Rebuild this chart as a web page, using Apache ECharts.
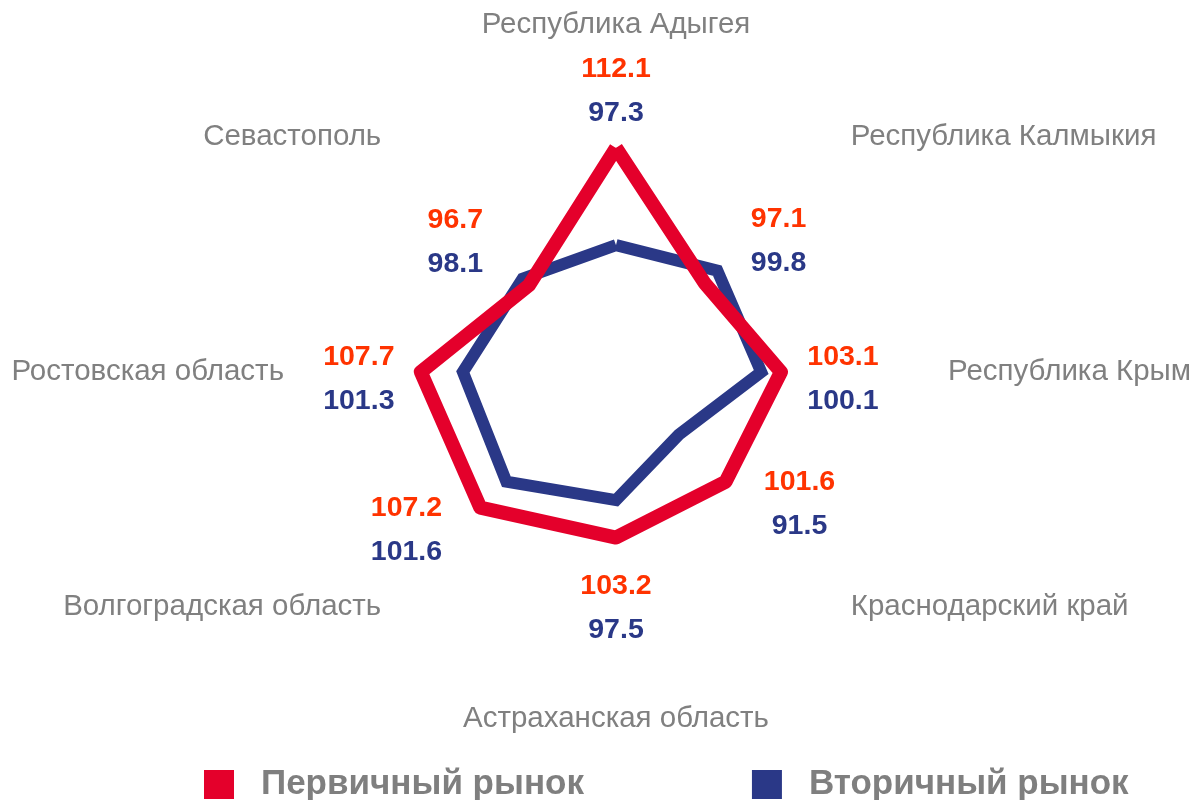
<!DOCTYPE html>
<html>
<head>
<meta charset="utf-8">
<script src="https://cdn.jsdelivr.net/npm/echarts@6/dist/echarts.min.js"></script>
<style>
  html, body { margin: 0; padding: 0; background: #fff; }
  #chart { width: 1191px; height: 800px; }
</style>
</head>
<body>
<div id="chart"></div>
<script>
// regions, starting at the top and going counter-clockwise (ECharts radar order)
const regions = [
  'Республика Адыгея',
  'Севастополь',
  'Ростовская область',
  'Волгоградская область',
  'Астраханская область',
  'Краснодарский край',
  'Республика Крым',
  'Республика Калмыкия'
]
const primary = [112.1, 96.7, 107.7, 107.2, 103.2, 101.6, 103.1, 97.1]
const secondary = [97.3, 98.1, 101.3, 101.6, 97.5, 91.5, 100.1, 99.8]
const seriesNames = ['Первичный рынок', 'Вторичный рынок']

const FONT = 'Arial, "Liberation Sans", sans-serif'
const RED = '#E4002B'
const BLUE = '#2A3887'
const CX = 616
const CY = 372

const chart = echarts.init(document.getElementById('chart'))

// подписи значений: красное сверху, синее снизу, вынесены наружу от вершины
const labelFormatter = (p) => {
  let i = p.dimensionIndex
  if (i == null) i = primary.indexOf(p.value)
  return `{r|${primary[i].toFixed(1)}}\n{b|${secondary[i].toFixed(1)}}`
}

const labelLayout = (p) => {
  const px = p.rect.x + p.rect.width / 2
  const py = p.rect.y + p.rect.height / 2
  const dx = px - CX
  const dy = py - CY
  const len = Math.sqrt(dx * dx + dy * dy) || 1
  const ux = dx / len
  const uy = dy / len
  const diag = Math.abs(ux * uy) * 2 // 1 на диагоналях, 0 на осях
  return {
    x: px + ux * (62 + 60 * Math.abs(uy)),
    y: py + uy * (64 - 18 * diag) + 7 - 17 * diag,
    align: 'center',
    verticalAlign: 'middle'
  }
}

const option = {
  animation: false,
  legend: {
    data: seriesNames,
    left: 199,
    top: 762,
    itemWidth: 30,
    itemHeight: 29,
    itemGap: 168,
    icon: 'rect',
    textStyle: {
      color: '#7F7F7F',
      fontSize: 35,
      fontWeight: 'bold',
      fontFamily: FONT,
      padding: [0, 0, 0, 22]
    }
  },
  radar: {
    center: [CX, CY],
    radius: 276,
    startAngle: 90,
    shape: 'polygon',
    splitNumber: 1,
    nameGap: 56,
    indicator: regions.map(name => ({ name, min: 78, max: 120 })),
    axisName: {
      color: '#808080',
      fontSize: 29.5,
      fontFamily: FONT
    },
    axisLine: { show: false },
    splitLine: { show: false },
    splitArea: { show: false },
    axisTick: { show: false },
    axisLabel: { show: false }
  },
  series: [
    {
      name: seriesNames[1],
      type: 'radar',
      symbol: 'none',
      itemStyle: { color: BLUE },
      lineStyle: { width: 12, color: BLUE, join: 'miter' },
      data: [{ value: secondary, name: seriesNames[1] }]
    },
    {
      name: seriesNames[0],
      type: 'radar',
      symbol: 'circle',
      symbolSize: 1,
      itemStyle: { color: RED },
      lineStyle: { width: 14, color: RED, join: 'round' },
      label: {
        show: true,
        formatter: labelFormatter,
        rich: {
          r: { color: '#FF3300', fontSize: 28.5, fontWeight: 'bold', fontFamily: FONT, lineHeight: 44 },
          b: { color: BLUE, fontSize: 28.5, fontWeight: 'bold', fontFamily: FONT, lineHeight: 44 }
        }
      },
      labelLayout: labelLayout,
      data: [{ value: primary, name: seriesNames[0] }]
    }
  ]
}

chart.setOption(option)
</script>
</body>
</html>
